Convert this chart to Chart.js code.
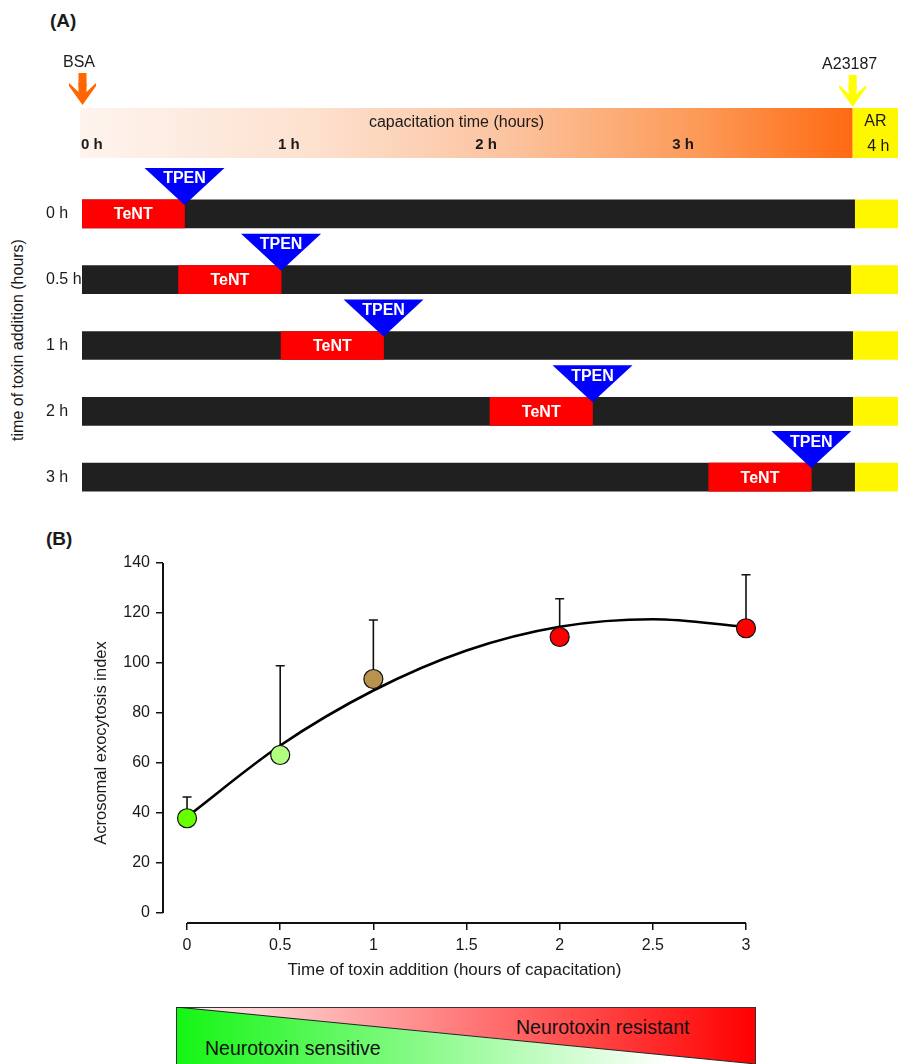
<!DOCTYPE html>
<html>
<head>
<meta charset="utf-8">
<script src="https://cdn.jsdelivr.net/npm/chart.js@4.4.1/dist/chart.umd.min.js"></script>
<style>
  body { margin: 0; background: #fff; font-family: Arial, "Liberation Sans", sans-serif; color: #1a1a1a; }
  #wrap { position: relative; width: 898px; height: 1064px; overflow: hidden; }
  canvas { position: absolute; left: 0; }
  .lbl { position: absolute; white-space: nowrap; }
  .panel { font-weight: bold; font-size: 19px; }
  .rot { transform: translate(-50%, -50%) rotate(-90deg); font-size: 16px; }
  #legend { position: absolute; left: 176px; top: 1007px; }
</style>
</head>
<body>
<div id="wrap">
  <div class="lbl panel" style="left:50px; top:10px;">(A)</div>
  <div class="lbl panel" style="left:46px; top:528px;">(B)</div>
  <div class="lbl rot" style="left:18px; top:340px;">time of toxin addition (hours)</div>
  <canvas id="timeline" width="898" height="520" style="top:0"></canvas>
  <canvas id="graph" width="898" height="470" style="top:530px"></canvas>
  <svg id="legend" width="581" height="58">
    <defs>
      <linearGradient id="gRes" x1="0" y1="0" x2="1" y2="0">
        <stop offset="0" stop-color="#fff3f3"/>
        <stop offset="1" stop-color="#ff0000"/>
      </linearGradient>
      <linearGradient id="gSen" x1="0" y1="0" x2="1" y2="0">
        <stop offset="0" stop-color="#14f514"/>
        <stop offset="0.85" stop-color="#ffffff"/>
      </linearGradient>
    </defs>
    <polygon points="0,0 580,0 580,57" fill="url(#gRes)"/>
    <polygon points="0,0 580,57 0,57" fill="url(#gSen)"/>
    <rect x="0.5" y="0.5" width="579" height="60" fill="none" stroke="#333" stroke-width="1"/>
    <line x1="0" y1="0" x2="580" y2="57" stroke="#222" stroke-width="1"/>
    <text x="340" y="27" font-size="19.5" fill="#111" font-family="Arial, Liberation Sans, sans-serif">Neurotoxin resistant</text>
    <text x="29" y="48" font-size="19.5" fill="#111" font-family="Arial, Liberation Sans, sans-serif">Neurotoxin sensitive</text>
  </svg>
</div>
<script>
Chart.defaults.font.family = 'Arial, "Liberation Sans", sans-serif';
Chart.defaults.color = '#1a1a1a';
Chart.defaults.animation = false;

// ---- panel A: time line of toxin / TPEN addition (hours of capacitation)
const rows = ['0 h', '0.5 h', '1 h', '2 h', '3 h'];
const tentStart = [0, 0.49, 1.01, 2.07, 3.18];
const tentEnd = [0.52, 1.01, 1.53, 2.59, 3.70];
const tpenAt = [0.52, 1.01, 1.53, 2.59, 3.70];
const a23187At = [3.92, 3.90, 3.91, 3.91, 3.92];
const arEnd = 4.14;
const hourMarks = [0, 1, 2, 3];

// ---- panel B: acrosomal exocytosis vs time of toxin addition
const hoursAdded = [0, 0.5, 1, 2, 3];
const aeIndex = [37.9, 63.2, 93.6, 110.4, 113.9];
const aeUpper = [46.4, 98.9, 117.2, 125.7, 135.3];
const pointColors = ['#66ff00', '#b2ff80', '#b8934d', '#ff0000', '#ff0000'];
const fitX = [0, 0.5, 1, 1.5, 2, 2.5, 3];
const fitY = [38.5, 67, 89, 105, 114.5, 117.5, 114.5];
const xTicks = [0, 0.5, 1, 1.5, 2, 2.5, 3];
const yTicks = [0, 20, 40, 60, 80, 100, 120, 140];

const timelineDecor = {
  id: 'timelineDecor',
  afterDatasetsDraw(chart) {
    const ctx = chart.ctx;
    const x = chart.scales.x, y = chart.scales.y;
    const x0 = x.getPixelForValue(0) - 2;
    const x1 = x.getPixelForValue(3.91);
    const x2 = x.getPixelForValue(arEnd);
    ctx.save();
    // capacitation header bar
    const g = ctx.createLinearGradient(x0, 0, x1, 0);
    g.addColorStop(0, '#fef4ee');
    g.addColorStop(0.3, '#fde1cf');
    g.addColorStop(0.55, '#fcc4a0');
    g.addColorStop(0.8, '#fc9a58');
    g.addColorStop(1, '#ff6a12');
    ctx.fillStyle = g;
    ctx.fillRect(x0, 108, x1 - x0, 50);
    ctx.fillStyle = '#fff700';
    ctx.fillRect(x1, 108, x2 - x1, 50);

    ctx.fillStyle = '#1a1a1a';
    ctx.textBaseline = 'middle';
    ctx.font = 'bold 15px Arial, "Liberation Sans", sans-serif';
    ctx.textAlign = 'left';
    hourMarks.forEach(h => ctx.fillText(h + ' h', x.getPixelForValue(h) - 1, 145));
    ctx.font = '16px Arial, "Liberation Sans", sans-serif';
    ctx.textAlign = 'center';
    ctx.fillText('capacitation time (hours)', x.getPixelForValue(1.9), 123);
    ctx.fillText('AR', (x1 + x2) / 2, 122);
    ctx.fillText('4 h', (x1 + x2) / 2 + 3, 147);
    ctx.fillText('BSA', x0 - 1, 63);
    ctx.fillText('A23187', x1 - 3, 65);

    // arrows
    const arrow = (cx, top, color) => {
      ctx.fillStyle = color;
      ctx.fillRect(cx - 4, top, 8, 14);
      ctx.beginPath();
      ctx.moveTo(cx - 13.5, top + 10);
      ctx.lineTo(cx - 4, top + 19);
      ctx.lineTo(cx - 4, top + 10);
      ctx.lineTo(cx + 4, top + 10);
      ctx.lineTo(cx + 4, top + 19);
      ctx.lineTo(cx + 13.5, top + 10);
      ctx.lineTo(cx + 13.5, top + 13);
      ctx.lineTo(cx, top + 32);
      ctx.lineTo(cx - 13.5, top + 13);
      ctx.closePath();
      ctx.fill();
    };
    arrow(x0 + 2.5, 73, '#ff6600');
    arrow(x1, 75, '#ffff00');

    // TeNT labels and TPEN triangles
    rows.forEach((r, i) => {
      const yc = y.getPixelForValue(i);
      const barTop = yc - 14;
      ctx.font = 'bold 16px Arial, "Liberation Sans", sans-serif';
      ctx.fillStyle = '#fff';
      ctx.textAlign = 'center';
      ctx.fillText('TeNT', (x.getPixelForValue(tentStart[i]) + x.getPixelForValue(tentEnd[i])) / 2, yc + 1);
      const tx = x.getPixelForValue(tpenAt[i]);
      ctx.fillStyle = '#0000ff';
      ctx.beginPath();
      ctx.moveTo(tx - 40, barTop - 32);
      ctx.lineTo(tx + 40, barTop - 32);
      ctx.lineTo(tx, barTop + 5);
      ctx.closePath();
      ctx.fill();
      ctx.fillStyle = '#fff';
      ctx.fillText('TPEN', tx, barTop - 21);
    });
    ctx.restore();
  }
};

new Chart(document.getElementById('timeline'), {
  type: 'bar',
  data: {
    labels: rows,
    datasets: [
      { label: 'TeNT', data: rows.map((r, i) => [tentStart[i], tentEnd[i]]), backgroundColor: '#ff0000', order: 0 },
      { label: 'incubation', data: rows.map((r, i) => [0, a23187At[i]]), backgroundColor: '#202020', order: 1 },
      { label: 'AR', data: rows.map((r, i) => [a23187At[i], arEnd]), backgroundColor: '#fff700', order: 1 }
    ]
  },
  options: {
    indexAxis: 'y',
    responsive: false,
    maintainAspectRatio: false,
    layout: { padding: { left: 46, right: 0, top: 181, bottom: 10 } },
    datasets: { bar: { grouped: false, barThickness: 28, borderWidth: 0 } },
    plugins: { legend: { display: false }, tooltip: { enabled: false } },
    scales: {
      x: { type: 'linear', min: 0, max: arEnd, display: false },
      y: {
        type: 'category',
        grid: { display: false },
        border: { display: false },
        ticks: { crossAlign: 'far', padding: 0, font: { size: 16 }, color: '#1a1a1a' },
        afterFit: s => { s.width = 36; }
      }
    }
  },
  plugins: [timelineDecor]
});

const errorBars = {
  id: 'errorBars',
  beforeDatasetsDraw(chart) {
    const ctx = chart.ctx;
    const x = chart.scales.x, y = chart.scales.y;
    ctx.save();
    ctx.strokeStyle = '#111';
    ctx.lineWidth = 1.6;
    hoursAdded.forEach((h, i) => {
      const px = x.getPixelForValue(h);
      const top = y.getPixelForValue(aeUpper[i]);
      ctx.beginPath();
      ctx.moveTo(px, y.getPixelForValue(aeIndex[i]));
      ctx.lineTo(px, top);
      ctx.moveTo(px - 4.5, top);
      ctx.lineTo(px + 4.5, top);
      ctx.stroke();
    });
    // detached axis lines
    ctx.lineWidth = 2;
    ctx.beginPath();
    const a = chart.chartArea;
    ctx.moveTo(a.left, y.getPixelForValue(yTicks[0]));
    ctx.lineTo(a.left, y.getPixelForValue(yTicks[yTicks.length - 1]));
    ctx.moveTo(x.getPixelForValue(xTicks[0]), a.bottom);
    ctx.lineTo(x.getPixelForValue(xTicks[xTicks.length - 1]), a.bottom);
    ctx.stroke();
    ctx.restore();
  }
};

new Chart(document.getElementById('graph'), {
  data: {
    datasets: [
      {
        type: 'scatter',
        label: 'Acrosomal exocytosis',
        data: hoursAdded.map((h, i) => ({ x: h, y: aeIndex[i] })),
        backgroundColor: pointColors,
        borderColor: '#111',
        borderWidth: 1.2,
        pointRadius: 9.5,
        clip: false,
        order: 0
      },
      {
        type: 'line',
        label: 'fit',
        data: fitX.map((v, i) => ({ x: v, y: fitY[i] })),
        borderColor: '#000',
        borderWidth: 2.6,
        pointRadius: 0,
        cubicInterpolationMode: 'monotone',
        fill: false,
        clip: false,
        order: 1
      }
    ]
  },
  options: {
    responsive: false,
    maintainAspectRatio: false,
    layout: { padding: { left: 88, right: 152, top: 33, bottom: 15 } },
    plugins: { legend: { display: false }, tooltip: { enabled: false } },
    scales: {
      x: {
        type: 'linear', min: -0.129, max: 3,
        afterBuildTicks: s => { s.ticks = xTicks.map(v => ({ value: v })); },
        afterFit: s => { s.height = 62; },
        grid: { drawOnChartArea: false, drawTicks: true, tickLength: 7, color: '#111', lineWidth: 1.5 },
        border: { display: false },
        ticks: { font: { size: 16 }, color: '#1a1a1a', padding: 6, maxRotation: 0, callback: v => String(v) },
        title: { display: true, text: 'Time of toxin addition (hours of capacitation)', font: { size: 17 }, color: '#1a1a1a' }
      },
      y: {
        type: 'linear', min: -4, max: 140,
        afterBuildTicks: s => { s.ticks = yTicks.map(v => ({ value: v })); },
        afterFit: s => { s.width = 75; },
        grid: { drawOnChartArea: false, drawTicks: true, tickLength: 7, color: '#111', lineWidth: 1.5 },
        border: { display: false },
        ticks: { font: { size: 16 }, color: '#1a1a1a', padding: 6 },
        title: { display: true, text: 'Acrosomal exocytosis index', font: { size: 16.5 }, color: '#1a1a1a' }
      }
    }
  },
  plugins: [errorBars]
});
</script>
</body>
</html>
